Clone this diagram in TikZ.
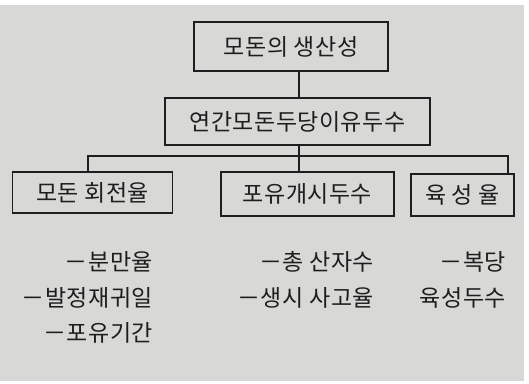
\documentclass[tikz,border=0pt]{standalone}
\usepackage{fontspec}
\setmainfont[LetterSpace=2]{Noto Sans CJK KR}
\definecolor{paper}{RGB}{216,216,214}
\definecolor{ink}{RGB}{30,30,30}
\tikzset{
  box/.style={draw=ink, line width=1.3pt, rectangle, inner sep=0pt, text=ink, font=\fontsize{23}{26}\selectfont},
  item/.style={text=ink, inner sep=0pt, font=\fontsize{23}{26}\selectfont},
  wire/.style={draw=ink, line width=1.1pt}
}
\begin{document}
\begin{tikzpicture}[x=1pt,y=-1pt]
\fill[white] (0,0) rectangle (529,383);
\fill[paper] (0,5) rectangle (524,381);
\useasboundingbox (0,0) rectangle (529,383);
\node[box, minimum width=194pt, minimum height=49pt] (top) at (291,46.5) {모돈의\ 생산성};
\node[box, minimum width=265pt, minimum height=47pt] (mid) at (297.5,121.5) {연간모돈두당이유두수};
\node[box, minimum width=160pt, minimum height=41pt] (l) at (92.5,192.5) {모돈\ 회전율};
\node[box, minimum width=173pt, minimum height=44pt] (c) at (307.5,194) {포유개시두수};
\node[box, minimum width=103pt, minimum height=42pt] (r) at (462.5,195) {육\ 성\ 율};
\coordinate (j0) at (299,156);
\coordinate (jl) at (88,156);
\coordinate (jr) at (508,156);
\draw[wire] (j0 |- top.south) -- (j0 |- mid.north);
\draw[wire] (j0 |- mid.south) -- (j0);
\draw[wire] (jl |- l.north) -- (jl) -- (jr) -- (jr |- r.north);
\draw[wire] (j0) -- (j0 |- c.north);
\node[item, anchor=east] (l1) at (153,262) {－분만율};
\node[item, anchor=east] (l2) at (153,298) {－발정재귀일};
\node[item, anchor=east] (l3) at (153,333) {－포유기간};
\node[item, anchor=east] (c1) at (374,262) {－총\ 산자수};
\node[item, anchor=east] (c2) at (374,298) {－생시\ 사고율};
\node[item, anchor=east] (r1) at (506,262) {－복당};
\node[item, anchor=east] (r2) at (506,298) {육성두수};
\end{tikzpicture}
\end{document}
